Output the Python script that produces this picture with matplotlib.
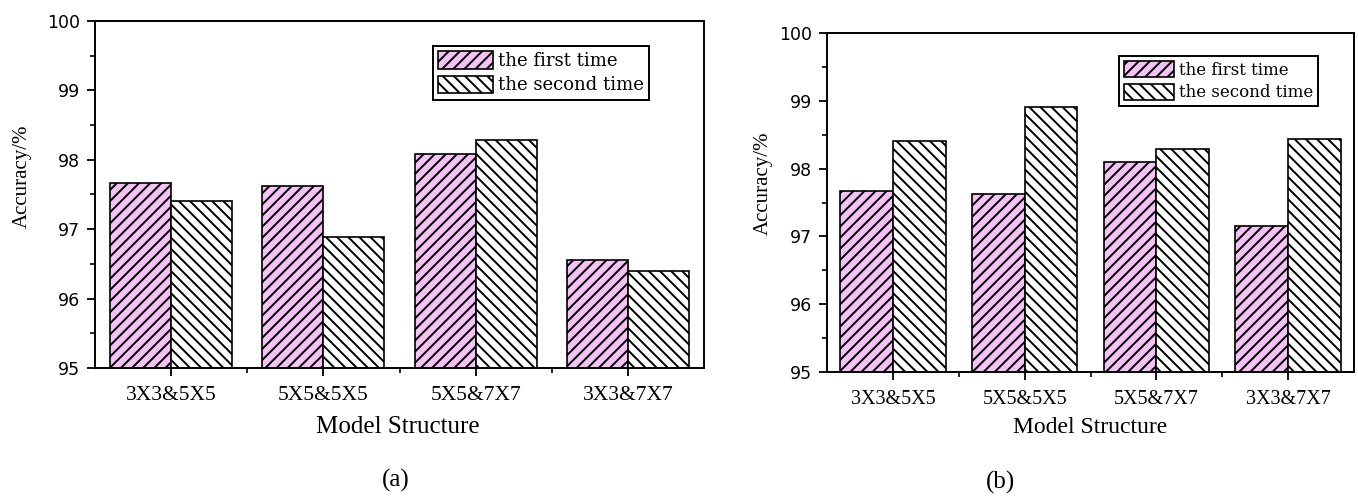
import matplotlib
matplotlib.use("Agg")
import matplotlib.pyplot as plt
import numpy as np

# accuracy (%) for each convolution-kernel combination
structures = ["3X3&5X5", "5X5&5X5", "5X5&7X7", "3X3&7X7"]
first_a = [97.67, 97.62, 98.09, 96.55]
second_a = [97.40, 96.89, 98.29, 96.40]
first_b = [97.67, 97.62, 98.09, 97.15]
second_b = [98.41, 98.91, 98.29, 98.44]

W, H = 1358, 498
pink = "#F4C2F4"
plt.rcParams["hatch.linewidth"] = 1.4
plt.rcParams["hatch.color"] = "black"

fig = plt.figure(figsize=(W / 100, H / 100), dpi=100)


def px_axes(x0, y0, x1, y1):
    # axes placed by pixel box (top-left origin)
    return fig.add_axes([x0 / W, 1 - y1 / H, (x1 - x0) / W, (y1 - y0) / H])


def draw_panel(ax, first, second, legend_xy, legend_size, tick_size,
               label_size, xlabel_pos, ylabel_pos, xlabel_text):
    x = np.arange(len(structures))
    bw = 0.4
    ax.bar(x - bw / 2, first, bw, color=pink, edgecolor="black",
           linewidth=1.2, hatch="///", label="the first time")
    ax.bar(x + bw / 2, second, bw, color="white", edgecolor="black",
           linewidth=1.2, hatch="\\\\\\", label="the second time")
    ax.set_ylim(95, 100)
    ax.set_xlim(-0.5, len(structures) - 0.5)
    ax.set_yticks([95, 96, 97, 98, 99, 100])
    ax.set_yticks(np.arange(95.5, 100, 1.0), minor=True)
    ax.set_xticks(x)
    ax.set_xticks(x[:-1] + 0.5, minor=True)
    ax.set_xticklabels(structures, fontfamily="Liberation Serif",
                       fontsize=tick_size)
    for lab in ax.get_yticklabels():
        lab.set_fontfamily("DejaVu Sans")
        lab.set_fontsize(12.5)
    ax.tick_params(axis="both", which="major", direction="out", length=6,
                   width=1.3)
    ax.tick_params(axis="both", which="minor", direction="out", length=3.5,
                   width=1.2)
    ax.tick_params(axis="x", pad=7)
    ax.tick_params(axis="y", pad=5)
    for sp in ax.spines.values():
        sp.set_linewidth(1.4)

    ax.set_xlabel(xlabel_text, fontfamily="Liberation Serif",
                  fontsize=label_size)
    ax.xaxis.set_label_coords(*xlabel_pos)
    ax.xaxis.label.set_va("center")
    ax.set_ylabel("Accuracy/%", fontfamily="Liberation Serif", fontsize=15)
    ax.yaxis.set_label_coords(*ylabel_pos)
    ax.yaxis.label.set_va("center")

    leg = ax.legend(loc="upper left",
                    bbox_to_anchor=(legend_xy[0] / W, 1 - legend_xy[1] / H),
                    bbox_transform=fig.transFigure,
                    prop={"family": "DejaVu Serif", "size": legend_size},
                    fancybox=False, framealpha=1, edgecolor="black",
                    borderpad=0.3, labelspacing=0.3, handlelength=3.0,
                    handleheight=1.1, handletextpad=0.3, borderaxespad=0)
    leg.get_frame().set_linewidth(1.4)


ax_a = px_axes(95, 21, 704, 368)
draw_panel(ax_a, first_a, second_a, (433, 46), 13, 15.5, 18,
           (0.4975, -0.17), (-0.12, 0.553), "Model Structure")

ax_b = px_axes(827, 33, 1354, 372)
draw_panel(ax_b, first_b, second_b, (1119, 56), 12, 14.5, 17,
           (0.499, -0.165), (-0.121, 0.558), "Model Structure")

fig.text(396 / W, 1 - 480 / H, "(a)", ha="center", va="center",
         fontfamily="Liberation Serif", fontsize=18)
fig.text(1000 / W, 1 - 482 / H, "(b)", ha="center", va="center",
         fontfamily="Liberation Serif", fontsize=18)

fig.savefig("out.png", dpi=100)
